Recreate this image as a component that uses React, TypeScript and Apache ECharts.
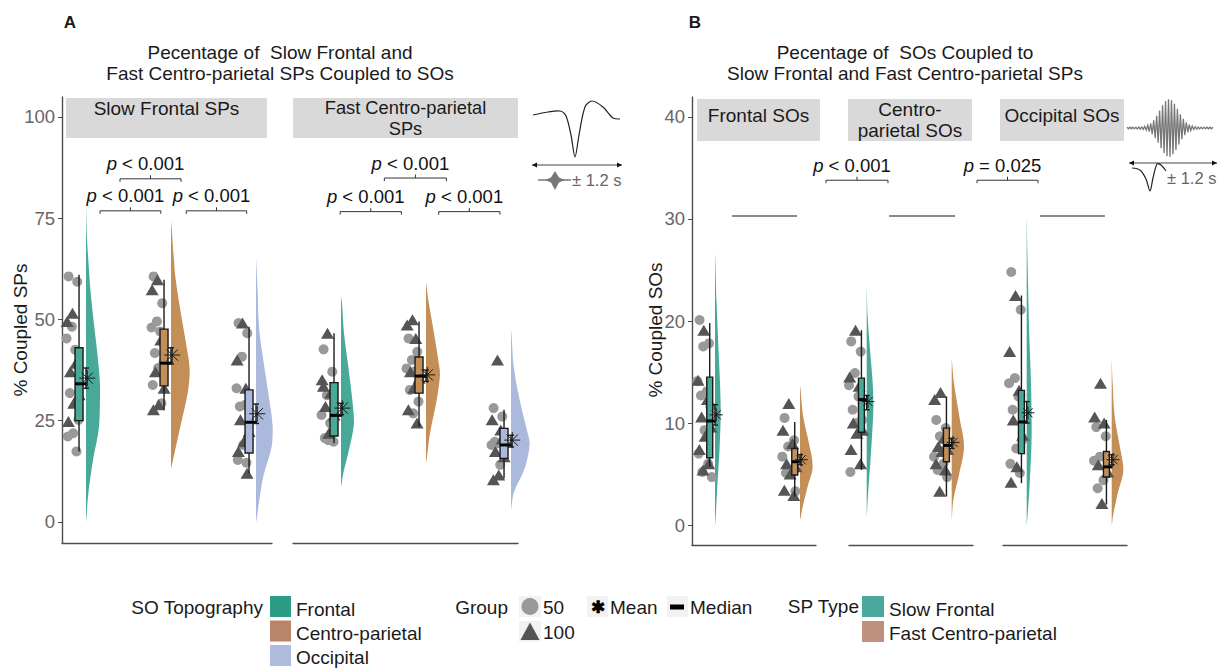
import React, { useEffect, useRef } from "react";
import * as echarts from "echarts";

const FONT = "'Liberation Sans', Arial, sans-serif";

// ---------------- categories, facets & tick labels ----------------
const SO_TOPOGRAPHY = ["Frontal", "Centro-parietal", "Occipital"];
const SP_TYPES = ["Slow Frontal", "Fast Centro-parietal"];
const A_FACETS = [["Slow Frontal SPs"], ["Fast Centro-parietal", "SPs"]];
const B_FACETS = [["Frontal SOs"], ["Centro-", "parietal SOs"], ["Occipital SOs"]];
const A_TITLE = ["Pecentage of  Slow Frontal and", "Fast Centro-parietal SPs Coupled to SOs"];
const B_TITLE = ["Pecentage of  SOs Coupled to", "Slow Frontal and Fast Centro-parietal SPs"];
const A_TICKS = [0, 25, 50, 75, 100];
const B_TICKS = [0, 10, 20, 30, 40];
const A_Y_RANGE = [-5.2, 104.9];
const B_Y_RANGE = [-1.96, 41.96];

// ---------------- Panel A: % coupled SPs ----------------
// facet "Slow Frontal SPs", per SO topography (Frontal, Centro-parietal, Occipital)
const A1_G50 = [
  [60.6, 59.3, 48.2, 45.3, 42.5, 31.8, 25.2, 21.9, 21.1, 17.4],
  [60.6, 54.0, 49.5, 48.0, 47.0, 41.7, 39.4, 38.0, 33.8, 29.3],
  [49.1, 46.6, 40.8, 33.0, 28.9, 28.5, 20.1, 19.0, 15.3, 14.6],
];
const A1_G100 = [
  [51.5, 49.5, 39.2, 37.1, 31.4, 29.3, 24.8],
  [59.8, 57.3, 44.9, 37.1, 33.0, 28.9, 27.7],
  [49.1, 40.0, 33.0, 25.2, 22.3, 19.8, 17.4, 12.0],
];
// [lower whisker, Q1, median, Q3, upper whisker]
const A1_BOX = [
  [17.4, 25.0, 34.1, 43.0, 61.0],
  [27.7, 33.6, 39.2, 47.6, 59.8],
  [12.0, 17.0, 24.6, 32.6, 48.2],
];
const A1_MEAN = [35.5, 41.2, 26.7];
const A1_SE = [[33.0, 38.0], [39.0, 43.0], [24.3, 29.1]];
// violin outline: [value, density]
const A1_DENS = [
  [[0, 0], [7, 2.3], [15.3, 7], [23.5, 13], [33.4, 14], [40, 12], [48.2, 8.3], [56.5, 4.7], [64.7, 2.3], [70, 1], [77.6, 0]],
  [[13.3, 0], [15.3, 2], [23.5, 9.3], [31.8, 16.7], [37.5, 18.7], [44.1, 15], [52.3, 9.3], [60.6, 4.3], [64.7, 3], [74, 0]],
  [[0, 0], [5.4, 3.3], [11.2, 7.3], [18.6, 15.7], [23.5, 16.7], [31.8, 12.3], [40, 7.3], [48.2, 3], [58, 1.5], [65, 0]],
];

// facet "Fast Centro-parietal SPs"
const A2_G50 = [
  [42.6, 37.1, 31.3, 26.4, 24.4, 20.7, 19.8, 20.2],
  [45.3, 42.0, 40.0, 37.9, 37.2, 32.6, 29.7, 26.8],
  [28.1, 26.0, 19.4, 19.0, 14.1, 19.8],
];
const A2_G100 = [
  [46.6, 35.1, 31.8, 28.5, 26.4, 21.9, 33.5],
  [49.9, 48.6, 45.3, 37.1, 35.5, 33.0, 27.7, 24.4],
  [40.0, 25.2, 22.7, 17.4, 16.1, 11.6, 10.4, 20.5],
];
const A2_BOX = [
  [19.4, 21.2, 26.3, 34.4, 46.6],
  [23.5, 31.8, 36.0, 40.7, 49.5],
  [10.8, 15.7, 19.0, 23.1, 27.7],
];
const A2_MEAN = [28.1, 36.3, 20.2];
const A2_SE = [[26.5, 29.3], [34.7, 37.5], [18.5, 21.4]];
const A2_DENS = [
  [[8.7, 0], [12, 2.3], [17.8, 8], [24.4, 13], [30.1, 11.3], [38.3, 7.3], [46.6, 3], [54, 1], [55.5, 0]],
  [[14.5, 0], [21.9, 4], [30.1, 10.7], [36.3, 14], [38.3, 13.3], [46.6, 8], [54.8, 2.3], [59, 0]],
  [[3, 0], [7.1, 2.7], [13.7, 14.3], [19.4, 18.7], [21.9, 16.7], [30.1, 8.7], [38.3, 2.7], [46, 0.6], [47.4, 0]],
];

// ---------------- Panel B: % coupled SOs (Slow Frontal, Fast Centro-parietal) ----------------
const B1_G50 = [
  [20.1, 17.8, 17.5, 14.1, 13.1, 12.7, 11.6, 9.3, 7.0, 6.0, 5.2, 4.7],
  [10.5, 8.3, 7.7, 6.7, 5.4, 5.1, 3.3],
];
const B1_G100 = [
  [19.1, 14.2, 12.3, 10.6, 9.6, 8.7, 7.4, 6.0, 5.4],
  [11.9, 9.3, 8.0, 6.0, 5.7, 5.0, 3.4, 2.9],
];
const B1_BOX = [
  [5.7, 6.6, 10.2, 14.5, 19.8],
  [2.8, 4.9, 6.2, 7.5, 10.1],
];
const B1_MEAN = [10.8, 6.4];
const B1_SE = [[9.8, 11.8], [5.9, 6.9]];
const B1_DENS = [
  [[0, 0], [4.1, 2.5], [7.4, 4.5], [11, 5.7], [13.9, 5], [17.2, 3.5], [22, 1.5], [26.6, 0]],
  [[0.5, 0], [1.8, 2.7], [3.8, 7.7], [5.7, 12.7], [8.3, 8.3], [10.6, 3.3], [13.6, 0]],
];

const B2_G50 = [
  [18.0, 17.0, 14.9, 13.7, 12.6, 11.3, 10.3, 10.0, 5.2],
  [10.3, 9.5, 8.7, 6.7, 6.0, 5.4, 4.7],
];
const B2_G100 = [
  [19.1, 14.5, 13.6, 10.0, 9.3, 9.0, 7.4, 6.0],
  [13.0, 12.3, 8.5, 7.7, 7.4, 7.2, 6.0, 5.4, 3.3],
];
const B2_BOX = [
  [5.4, 9.1, 12.3, 14.4, 19.1],
  [2.8, 6.2, 7.8, 9.5, 12.6],
];
const B2_MEAN = [12.1, 8.1];
const B2_SE = [[11.3, 12.7], [7.5, 8.5]];
const B2_DENS = [
  [[0.7, 0], [2.5, 1], [5.7, 3.3], [9.0, 5.5], [11.6, 6.7], [13.9, 6], [17.2, 3.3], [20.4, 1], [23.4, 0]],
  [[0.5, 0], [2.5, 1.7], [5.1, 7.7], [7.7, 12.3], [10.6, 7.7], [13.9, 2.3], [16.2, 0]],
];

const B3_G50 = [
  [24.8, 21.1, 14.4, 13.9, 12.6, 11.3, 8.3, 7.5, 6.0, 5.1],
  [9.6, 8.7, 6.7, 6.3, 4.4, 3.6],
];
const B3_G100 = [
  [22.5, 17.0, 13.2, 10.3, 8.8, 5.7, 4.2],
  [13.9, 10.6, 10.0, 5.9, 5.2, 2.1],
];
const B3_BOX = [
  [4.1, 7.0, 10.1, 13.2, 22.5],
  [2.0, 4.7, 5.7, 7.2, 10.3],
];
const B3_MEAN = [11.0, 6.4];
const B3_SE = [[10.0, 12.1], [5.9, 6.9]];
const B3_DENS = [
  [[0, 0], [1.5, 1.3], [4.1, 3], [9.0, 5], [13.9, 4.3], [18.8, 2.5], [25.3, 1], [30.2, 0]],
  [[0, 0], [1.1, 1.7], [3.1, 6], [5.4, 11.7], [7.4, 8.7], [10.6, 3], [13.9, 1], [16.2, 0]],
];

// ---------------- significance annotations ----------------
const A1_SIG = [
  { x1: 1.165, x2: 1.88, y: 76.8, label: "< 0.001" },
  { x1: 2.18, x2: 2.89, y: 76.8, label: "< 0.001" },
  { x1: 1.4, x2: 2.118, y: 84.7, label: "< 0.001" },
];
const A2_SIG = [
  { x1: 0.99, x2: 1.71, y: 76.6, label: "< 0.001" },
  { x1: 2.15, x2: 2.87, y: 76.6, label: "< 0.001" },
  { x1: 1.51, x2: 2.24, y: 84.9, label: "< 0.001" },
];
const B1_SIG = [{ x1: 2.306, x2: 3.035, y: 33.8, label: "< 0.001" }];
const B2_SIG = [{ x1: 2.298, x2: 3.015, y: 33.8, label: "= 0.025" }];
const B1_NS = [{ x1: 1.2, x2: 1.965, y: 30.3 }];
const B2_NS = [{ x1: 1.263, x2: 2.04, y: 30.3 }];
const B3_NS = [{ x1: 1.157, x2: 1.92, y: 30.3 }];

// ---------------- colours ----------------
const A_COLORS = ["#48a999", "#c48f57", "#abb9dc"];
const B_COLORS = ["#48a999", "#c48f57"];
const TOPO_KEY_COLORS = ["#2c9c86", "#b98468", "#adbcdc"];
const SPTYPE_KEY_COLORS = ["#4aa99a", "#bf907d"];
const COL_50 = "#999999";
const COL_100 = "#555555";

// ---------------- layout ----------------
const PX_PER_CAT = 85;
const LAYOUT = [
  { left: 62, width: 210, top: 97, height: 446, base: 86 },
  { left: 293, width: 225, top: 97, height: 446, base: 341 },
  { left: 692, width: 124, top: 97, height: 448, base: 715 },
  { left: 849, width: 124, top: 97, height: 448, base: 866.7 },
  { left: 1003, width: 124, top: 97, height: 448, base: 1026.7 },
];

const FACETS = [
  { panel: "A", g50: A1_G50, g100: A1_G100, box: A1_BOX, mean: A1_MEAN, se: A1_SE, dens: A1_DENS, colors: A_COLORS, sig: A1_SIG, ns: [] as any[], showY: true },
  { panel: "A", g50: A2_G50, g100: A2_G100, box: A2_BOX, mean: A2_MEAN, se: A2_SE, dens: A2_DENS, colors: A_COLORS, sig: A2_SIG, ns: [] as any[], showY: false },
  { panel: "B", g50: B1_G50, g100: B1_G100, box: B1_BOX, mean: B1_MEAN, se: B1_SE, dens: B1_DENS, colors: B_COLORS, sig: B1_SIG, ns: B1_NS, showY: true },
  { panel: "B", g50: B2_G50, g100: B2_G100, box: B2_BOX, mean: B2_MEAN, se: B2_SE, dens: B2_DENS, colors: B_COLORS, sig: B2_SIG, ns: B2_NS, showY: false },
  { panel: "B", g50: B3_G50, g100: B3_G100, box: B3_BOX, mean: B3_MEAN, se: B3_SE, dens: B3_DENS, colors: B_COLORS, sig: [] as any[], ns: B3_NS, showY: false },
];

function jitter(i: number, isA: boolean, shift: number) {
  const f = ((i + shift) * 0.6180339887) % 1;
  return isA ? -0.153 + (f - 0.5) * 0.165 : -0.125 + (f - 0.5) * 0.18;
}

const INK = "#1a1a1a";

function buildSeries(f: any, i: number) {
  const isA = f.panel === "A";
  const boxOff = isA ? -0.082 : -0.062;
  const boxHw = isA ? 0.047 : 0.035;
  const starR = isA ? 8 : 6.5;
  const series: any[] = [];
  const cats = f.box.map((_: any, k: number) => [k + 1, 0]);

  // half violins
  series.push({
    type: "custom", xAxisIndex: i, yAxisIndex: i, z: 2, silent: true,
    data: cats,
    renderItem: (params: any, api: any) => {
      const k = params.dataIndex;
      const cat = k + 1;
      const prof = f.dens[k];
      const pts = prof.map((p: number[]) => api.coord([cat + p[1] / PX_PER_CAT, p[0]]));
      for (let j = prof.length - 2; j >= 1; j--) pts.push(api.coord([cat, prof[j][0]]));
      let minX = Infinity, minY = Infinity, maxX = -Infinity, maxY = -Infinity;
      pts.forEach((p: number[]) => {
        minX = Math.min(minX, p[0]); maxX = Math.max(maxX, p[0]);
        minY = Math.min(minY, p[1]); maxY = Math.max(maxY, p[1]);
      });
      return {
        type: "polygon",
        shape: { points: pts, smooth: 0.35, smoothConstraint: [[minX, minY], [maxX, maxY]] },
        style: { fill: f.colors[k], stroke: "none" },
      };
    },
  });

  // points: group 50 (circles) and group 100 (triangles)
  const d50: number[][] = [];
  const d100: number[][] = [];
  f.g50.forEach((arr: number[], k: number) => arr.forEach((v, j) => d50.push([k + 1 + jitter(j, isA, 0.3), v])));
  f.g100.forEach((arr: number[], k: number) => arr.forEach((v, j) => d100.push([k + 1 + jitter(j, isA, 0.75), v])));
  series.push({
    type: "scatter", xAxisIndex: i, yAxisIndex: i, z: 3, silent: true,
    symbol: "circle", symbolSize: 10, data: d50,
    itemStyle: { color: COL_50, opacity: 1 },
  });
  series.push({
    type: "scatter", xAxisIndex: i, yAxisIndex: i, z: 3, silent: true,
    symbol: "triangle", symbolSize: [13, 11], data: d100,
    itemStyle: { color: COL_100, opacity: 1 },
  });

  // boxplots
  series.push({
    type: "custom", xAxisIndex: i, yAxisIndex: i, z: 4, silent: true,
    data: cats,
    renderItem: (params: any, api: any) => {
      const k = params.dataIndex;
      const cat = k + 1;
      const [lo, q1, , q3, hi] = f.box[k];
      const cx = cat + boxOff;
      const pA = api.coord([cx - boxHw, q3]);
      const pB = api.coord([cx + boxHw, q1]);
      const c = api.coord([cx, 0])[0];
      const ln = { stroke: INK, lineWidth: 1.4 };
      return {
        type: "group",
        children: [
          { type: "line", shape: { x1: c, y1: api.coord([cx, hi])[1], x2: c, y2: pA[1] }, style: ln },
          { type: "line", shape: { x1: c, y1: pB[1], x2: c, y2: api.coord([cx, lo])[1] }, style: ln },
          { type: "rect", shape: { x: pA[0], y: pA[1], width: pB[0] - pA[0], height: pB[1] - pA[1] }, style: { fill: f.colors[k], stroke: INK, lineWidth: 1.4 } },
        ],
      };
    },
  });

  // median, mean (asterisk) and error bars
  series.push({
    type: "custom", xAxisIndex: i, yAxisIndex: i, z: 5, silent: true,
    data: cats,
    renderItem: (params: any, api: any) => {
      const k = params.dataIndex;
      const cat = k + 1;
      const med = f.box[k][2];
      const pm1 = api.coord([cat + boxOff - boxHw, med]);
      const pm2 = api.coord([cat + 0.01, med]);
      const e1 = api.coord([cat, f.se[k][0]]);
      const e2 = api.coord([cat, f.se[k][1]]);
      const s = api.coord([cat + 0.015, f.mean[k]]);
      const r = starR;
      const d = r * 0.7071;
      const st = { stroke: INK, lineWidth: 1 };
      return {
        type: "group",
        children: [
          { type: "line", shape: { x1: pm1[0], y1: pm1[1], x2: pm2[0], y2: pm2[1] }, style: { stroke: "#000", lineWidth: 3 } },
          { type: "line", shape: { x1: e1[0], y1: e1[1], x2: e2[0], y2: e2[1] }, style: { stroke: INK, lineWidth: 1.4 } },
          { type: "line", shape: { x1: e1[0] - 3, y1: e1[1], x2: e1[0] + 3, y2: e1[1] }, style: { stroke: INK, lineWidth: 1.4 } },
          { type: "line", shape: { x1: e2[0] - 3, y1: e2[1], x2: e2[0] + 3, y2: e2[1] }, style: { stroke: INK, lineWidth: 1.4 } },
          { type: "line", shape: { x1: s[0] - r, y1: s[1], x2: s[0] + r, y2: s[1] }, style: st },
          { type: "line", shape: { x1: s[0], y1: s[1] - r, x2: s[0], y2: s[1] + r }, style: st },
          { type: "line", shape: { x1: s[0] - d, y1: s[1] - d, x2: s[0] + d, y2: s[1] + d }, style: st },
          { type: "line", shape: { x1: s[0] - d, y1: s[1] + d, x2: s[0] + d, y2: s[1] - d }, style: st },
        ],
      };
    },
  });

  // significance brackets
  if (f.sig.length) {
    series.push({
      type: "custom", xAxisIndex: i, yAxisIndex: i, z: 6, silent: true, clip: false,
      data: f.sig.map((_: any, j: number) => [j, 0]),
      renderItem: (params: any, api: any) => {
        const b = f.sig[params.dataIndex];
        const p1 = api.coord([b.x1, b.y]);
        const p2 = api.coord([b.x2, b.y]);
        const mx = (p1[0] + p2[0]) / 2;
        const st = { stroke: "#333", lineWidth: 1 };
        return {
          type: "group",
          children: [
            { type: "line", shape: { x1: p1[0], y1: p1[1], x2: p2[0], y2: p2[1] }, style: st },
            { type: "line", shape: { x1: p1[0], y1: p1[1], x2: p1[0], y2: p1[1] + 3 }, style: st },
            { type: "line", shape: { x1: p2[0], y1: p2[1], x2: p2[0], y2: p2[1] + 3 }, style: st },
            { type: "line", shape: { x1: mx, y1: p1[1], x2: mx, y2: p1[1] - 3.5 }, style: st },
            {
              type: "text",
              x: mx - 5, y: p1[1] - 15,
              style: {
                text: "{i|p} " + b.label,
                fontSize: 18.5, fontFamily: FONT, fill: "#111",
                align: "center", verticalAlign: "middle",
                rich: { i: { fontStyle: "italic", fontSize: 18.5, fontFamily: FONT, fill: "#111" } },
              },
            },
          ],
        };
      },
    });
  }
  if (f.ns.length) {
    series.push({
      type: "custom", xAxisIndex: i, yAxisIndex: i, z: 6, silent: true, clip: false,
      data: f.ns.map((_: any, j: number) => [j, 0]),
      renderItem: (params: any, api: any) => {
        const b = f.ns[params.dataIndex];
        const p1 = api.coord([b.x1, b.y]);
        const p2 = api.coord([b.x2, b.y]);
        return { type: "line", shape: { x1: p1[0], y1: p1[1], x2: p2[0], y2: p2[1] }, style: { stroke: "#8a8a8a", lineWidth: 2 } };
      },
    });
  }
  return series;
}

function txt(text: string, x: number, y: number, opts: any = {}) {
  return {
    type: "text", x, y, rotation: opts.rotation || 0, silent: true,
    style: {
      text, fontSize: opts.size || 18, fontFamily: FONT, fontWeight: opts.weight || "normal",
      fill: opts.color || "#1a1a1a", align: opts.align || "left", verticalAlign: opts.va || "middle",
      textAlign: opts.align || "left", textVerticalAlign: opts.va || "middle",
    },
  };
}

function arrowLine(x1: number, x2: number, y: number) {
  return [
    { type: "line", shape: { x1, y1: y, x2, y2: y }, style: { stroke: "#444", lineWidth: 1 } },
    { type: "polygon", shape: { points: [[x1, y], [x1 + 5, y - 2.5], [x1 + 5, y + 2.5]] }, style: { fill: "#111" } },
    { type: "polygon", shape: { points: [[x2, y], [x2 - 5, y - 2.5], [x2 - 5, y + 2.5]] }, style: { fill: "#111" } },
  ];
}

function buildGraphics() {
  const g: any[] = [];
  // panel letters and titles
  g.push(txt("A", 70, 22, { weight: "bold", align: "center", size: 17 }));
  g.push(txt("B", 695, 22, { weight: "bold", align: "center", size: 17 }));
  A_TITLE.forEach((line, k) => g.push(txt(line, 280, 52 + k * 21.5, { align: "center", size: 19 })));
  B_TITLE.forEach((line, k) => g.push(txt(line, 905, 52 + k * 21.5, { align: "center", size: 19 })));
  // y axis titles
  g.push(txt("% Coupled SPs", 20, 330, { rotation: Math.PI / 2, align: "center", size: 19 }));
  g.push(txt("% Coupled SOs", 655, 330, { rotation: Math.PI / 2, align: "center", size: 19 }));

  // strips
  const stripsA = [[66, 267], [293, 518]];
  stripsA.forEach(([x1, x2], k) => {
    g.push({ type: "rect", silent: true, shape: { x: x1, y: 98, width: x2 - x1, height: 40 }, style: { fill: "#d9d9d9" } });
    const lines = A_FACETS[k];
    lines.forEach((line, j) => g.push(txt(line, (x1 + x2) / 2, lines.length > 1 ? 107.5 + j * 20.5 : 108.5, { align: "center", size: lines.length > 1 ? 18.3 : 19 })));
  });
  const stripsB = [[697, 820], [848, 972], [1000, 1124]];
  stripsB.forEach(([x1, x2], k) => {
    g.push({ type: "rect", silent: true, shape: { x: x1, y: 99, width: x2 - x1, height: 42 }, style: { fill: "#d9d9d9" } });
    const lines = B_FACETS[k];
    lines.forEach((line, j) => g.push(txt(line, (x1 + x2) / 2, lines.length > 1 ? 109 + j * 21.3 : 115, { align: "center", size: 19 })));
  });

  // inset A: SO waveform, time span, spindle glyph
  g.push({
    type: "polyline", silent: true,
    shape: { points: [[533, 115], [548, 112], [560, 111], [566, 116], [571, 135], [575, 157], [579, 135], [585, 107], [592, 101], [603, 107], [613, 118], [620, 119]], smooth: 0.3 },
    style: { stroke: "#222", lineWidth: 1.2, fill: "none" },
  });
  arrowLine(532, 622, 165).forEach((e) => g.push({ ...e, silent: true }));
  g.push({ type: "line", silent: true, shape: { x1: 538, y1: 180, x2: 571, y2: 180 }, style: { stroke: "#777", lineWidth: 1.5 } });
  g.push({
    type: "polygon", silent: true,
    shape: { points: [[545, 180], [551, 177.5], [555, 171], [559, 177.5], [565, 180], [559, 182.5], [555, 190], [551, 182.5]] },
    style: { fill: "#777" },
  });
  g.push(txt("± 1.2 s", 572, 180, { size: 16.5, color: "#666" }));

  // inset B: spindle waveform, time span, SO glyph
  const sp: number[][] = [];
  const n = 58;
  for (let j = 0; j <= n; j++) {
    const x = 1127 + (j * 86) / n;
    const amp = 28 * Math.exp(-Math.pow((x - 1169) / 13, 2)) + 0.8;
    sp.push([x, 128 + (j % 2 ? amp : -amp)]);
  }
  g.push({ type: "polyline", silent: true, shape: { points: sp }, style: { stroke: "#777", lineWidth: 1.3, fill: "none" } });
  arrowLine(1129, 1217, 163).forEach((e) => g.push({ ...e, silent: true }));
  g.push({
    type: "polyline", silent: true,
    shape: { points: [[1132, 168], [1140, 170], [1146, 179], [1150, 191], [1153, 178], [1157, 164], [1161, 165], [1166, 171]], smooth: 0.3 },
    style: { stroke: "#222", lineWidth: 1.2, fill: "none" },
  });
  g.push(txt("± 1.2 s", 1167, 178, { size: 16.5, color: "#666" }));

  // legend: SO Topography
  const LS = 19;
  g.push(txt("SO Topography", 263, 607, { size: LS, align: "right" }));
  SO_TOPOGRAPHY.forEach((name, k) => {
    g.push({ type: "rect", silent: true, shape: { x: 270, y: 596 + k * 24.5, width: 21, height: 21 }, style: { fill: TOPO_KEY_COLORS[k] } });
    g.push(txt(name, 296, 609 + k * 24, { size: LS }));
  });
  // legend: Group
  g.push(txt("Group", 508, 607, { size: LS, align: "right" }));
  g.push({ type: "rect", silent: true, shape: { x: 519, y: 596, width: 22, height: 21 }, style: { fill: "#f2f2f2" } });
  g.push({ type: "rect", silent: true, shape: { x: 519, y: 621, width: 22, height: 21 }, style: { fill: "#f2f2f2" } });
  g.push({ type: "circle", silent: true, shape: { cx: 530, cy: 606.5, r: 8.5 }, style: { fill: COL_50 } });
  g.push({ type: "polygon", silent: true, shape: { points: [[530, 622.5], [539.5, 640], [520.5, 640]] }, style: { fill: COL_100 } });
  g.push(txt("50", 543, 607, { size: LS }));
  g.push(txt("100", 543, 632, { size: LS }));
  // legend: mean / median
  g.push({ type: "rect", silent: true, shape: { x: 587, y: 596, width: 21, height: 21 }, style: { fill: "#f2f2f2" } });
  g.push(txt("✱", 597.5, 607, { align: "center", size: 17, color: "#000", weight: "bold" }));
  g.push(txt("Mean", 610, 607, { size: LS }));
  g.push({ type: "rect", silent: true, shape: { x: 667, y: 596, width: 21, height: 21 }, style: { fill: "#f2f2f2" } });
  g.push({ type: "rect", silent: true, shape: { x: 670, y: 604.5, width: 14, height: 5 }, style: { fill: "#000" } });
  g.push(txt("Median", 690, 607, { size: LS }));
  // legend: SP Type
  g.push(txt("SP Type", 859, 606, { size: LS, align: "right" }));
  SP_TYPES.forEach((name, k) => {
    g.push({ type: "rect", silent: true, shape: { x: 862, y: 596 + k * 25, width: 22, height: 21 }, style: { fill: SPTYPE_KEY_COLORS[k] } });
    g.push(txt(name, 889, 609 + k * 24, { size: LS }));
  });
  return g;
}

function buildOption() {
  const grid: any[] = [];
  const xAxis: any[] = [];
  const yAxis: any[] = [];
  let series: any[] = [];
  FACETS.forEach((f, i) => {
    const L = LAYOUT[i];
    const isA = f.panel === "A";
    const ticks = isA ? A_TICKS : B_TICKS;
    const yr = isA ? A_Y_RANGE : B_Y_RANGE;
    grid.push({ left: L.left, top: L.top, width: L.width, height: L.height, outerBoundsMode: "none" });
    xAxis.push({
      type: "value", gridIndex: i,
      min: 1 + (L.left - L.base) / PX_PER_CAT,
      max: 1 + (L.left + L.width - L.base) / PX_PER_CAT,
      axisLine: { show: true, onZero: false, lineStyle: { color: "#4d4d4d", width: 1.4 } },
      axisTick: { show: false }, axisLabel: { show: false }, splitLine: { show: false },
    });
    yAxis.push({
      type: "value", gridIndex: i, min: yr[0], max: yr[1],
      axisLine: { show: f.showY, onZero: false, lineStyle: { color: "#4d4d4d", width: 1.4 } },
      axisTick: { show: f.showY, length: 4, customValues: ticks, lineStyle: { color: "#4d4d4d", width: 1 } },
      axisLabel: { show: f.showY, customValues: ticks, fontSize: 18.5, color: "#666", margin: 7, fontFamily: FONT },
      splitLine: { show: false },
    });
    series = series.concat(buildSeries(f, i));
  });
  return {
    animation: false,
    backgroundColor: "#fff",
    textStyle: { fontFamily: FONT },
    grid, xAxis, yAxis, series,
    graphic: { elements: buildGraphics() },
  };
}

export default function App() {
  const ref = useRef<HTMLDivElement>(null);
  useEffect(() => {
    const chart = echarts.init(ref.current!, null, { renderer: "svg" });
    chart.setOption(buildOption() as any);
    return () => chart.dispose();
  }, []);
  return (
    <div
      ref={ref}
      style={{ position: "fixed", left: 0, top: 0, width: 1230, height: 669, background: "#fff" }}
    />
  );
}
